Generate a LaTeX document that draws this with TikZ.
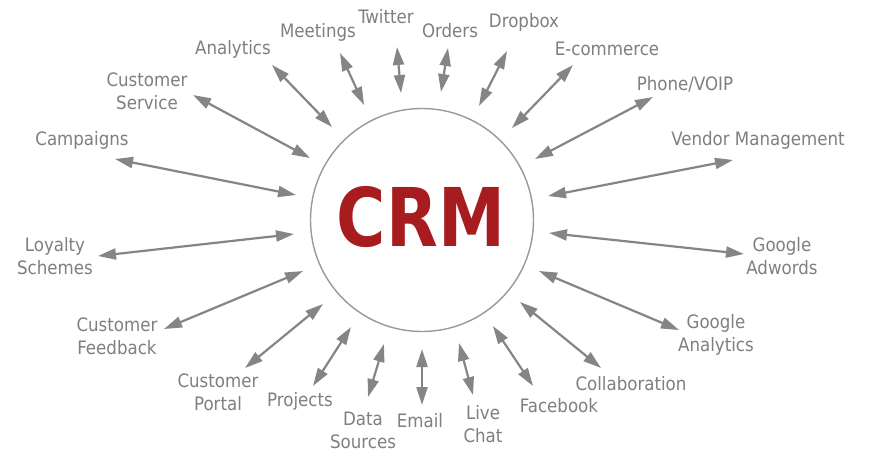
\documentclass[tikz,border=0pt]{standalone}
\usepackage{fontspec}
\setmainfont{DejaVu Sans Condensed}
\newfontfamily\crmfont{DejaVu Sans}
\usepackage{xcolor}
\usepackage{tikz}
\usetikzlibrary{arrows.meta}

\definecolor{labelgray}{HTML}{7F7F7F}
\definecolor{linkgray}{HTML}{858585}
\definecolor{crmred}{HTML}{A61C1F}

\begin{document}
\begin{tikzpicture}[
    x=1pt, y=-1pt,
    item/.style={align=center, inner sep=0pt, text=labelgray, font=\fontsize{18.5}{23}\selectfont},
    hub/.style={circle, draw=gray!80, line width=1.4pt, minimum size=223pt, inner sep=0pt},
    link/.style={{Triangle[length=18pt,width=11pt]}-{Triangle[length=18pt,width=11pt]}, line width=2.2pt, draw=linkgray}
]
\useasboundingbox[fill=white] (0,0) rectangle (872,456);

% centre
\node[hub] (crm) at (422,220) {};
\node[text=crmred, font=\crmfont\fontsize{81}{81}\bfseries, xscale=0.83, inner sep=0pt] (crmtext) at (421,217) {CRM};

% labels, clockwise from the top
\node[item] (twitter) at (386,17) {Twitter};
\node[item] (orders) at (450,31) {Orders};
\node[item] (dropbox) at (524,22) {Dropbox};
\node[item] (ecommerce) at (607,49) {E-commerce};
\node[item] (phone) at (685,84) {Phone/VOIP};
\node[item] (vendor) at (758,140) {Vendor Management};
\node[item] (adwords) at (782,256) {Google\\Adwords};
\node[item] (ganalytics) at (716,335) {Google\\Analytics};
\node[item] (collab) at (631,384) {Collaboration};
\node[item] (facebook) at (559,406) {Facebook};
\node[item] (livechat) at (483,424) {Live\\Chat};
\node[item] (email) at (420,421) {Email};
\node[item] (datasrc) at (363,430) {Data\\Sources};
\node[item] (projects) at (300,401) {Projects};
\node[item] (portal) at (218,392) {Customer\\Portal};
\node[item] (feedback) at (117,336) {Customer\\Feedback};
\node[item] (loyalty) at (55,256) {Loyalty\\Schemes};
\node[item] (campaigns) at (82,140) {Campaigns};
\node[item] (service) at (147,91) {Customer\\Service};
\node[item] (analytics) at (233,49) {Analytics};
\node[item] (meetings) at (318,32) {Meetings};

% arrow ends (outer, inner)
\coordinate (twitter-o) at (397,47);    \coordinate (twitter-i) at (401,93);
\coordinate (orders-o) at (448,48);     \coordinate (orders-i) at (441,92);
\coordinate (dropbox-o) at (507,51);    \coordinate (dropbox-i) at (479,106);
\coordinate (ecommerce-o) at (573,65);  \coordinate (ecommerce-i) at (512,128);
\coordinate (phone-o) at (653,97);      \coordinate (phone-i) at (535,159);
\coordinate (vendor-o) at (733,160);    \coordinate (vendor-i) at (548,196);
\coordinate (adwords-o) at (744,254);   \coordinate (adwords-i) at (549,233);
\coordinate (ganalytics-o) at (679,330);\coordinate (ganalytics-i) at (539,271);
\coordinate (collab-o) at (601,368);    \coordinate (collab-i) at (520,302);
\coordinate (facebook-o) at (533,386);  \coordinate (facebook-i) at (493,326);
\coordinate (livechat-o) at (473,395);  \coordinate (livechat-i) at (459,343);
\coordinate (email-o) at (422,405);     \coordinate (email-i) at (422,349);
\coordinate (datasrc-o) at (368,397);   \coordinate (datasrc-i) at (384,344);
\coordinate (projects-o) at (313,386);  \coordinate (projects-i) at (351,327);
\coordinate (portal-o) at (245,368);    \coordinate (portal-i) at (323,304);
\coordinate (feedback-o) at (164,329);  \coordinate (feedback-i) at (303,271);
\coordinate (loyalty-o) at (98,256);    \coordinate (loyalty-i) at (294,234);
\coordinate (campaigns-o) at (115,159); \coordinate (campaigns-i) at (296,195);
\coordinate (service-o) at (193,95);    \coordinate (service-i) at (310,158);
\coordinate (analytics-o) at (272,65);  \coordinate (analytics-i) at (332,127);
\coordinate (meetings-o) at (340,53);   \coordinate (meetings-i) at (364,105);

% connectors
\draw[link] (twitter-o) -- (twitter-i);
\draw[link] (orders-o) -- (orders-i);
\draw[link] (dropbox-o) -- (dropbox-i);
\draw[link] (ecommerce-o) -- (ecommerce-i);
\draw[link] (phone-o) -- (phone-i);
\draw[link] (vendor-o) -- (vendor-i);
\draw[link] (adwords-o) -- (adwords-i);
\draw[link] (ganalytics-o) -- (ganalytics-i);
\draw[link] (collab-o) -- (collab-i);
\draw[link] (facebook-o) -- (facebook-i);
\draw[link] (livechat-o) -- (livechat-i);
\draw[link] (email-o) -- (email-i);
\draw[link] (datasrc-o) -- (datasrc-i);
\draw[link] (projects-o) -- (projects-i);
\draw[link] (portal-o) -- (portal-i);
\draw[link] (feedback-o) -- (feedback-i);
\draw[link] (loyalty-o) -- (loyalty-i);
\draw[link] (campaigns-o) -- (campaigns-i);
\draw[link] (service-o) -- (service-i);
\draw[link] (analytics-o) -- (analytics-i);
\draw[link] (meetings-o) -- (meetings-i);
\end{tikzpicture}
\end{document}
